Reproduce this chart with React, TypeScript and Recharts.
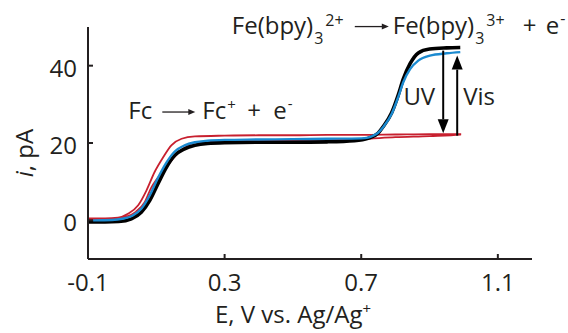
import React from "react";
import { LineChart, Line, XAxis, YAxis, ReferenceLine, ReferenceDot } from "recharts";

const FONT = "'Open Sans', sans-serif";
const INK = "#231f20";

const xTicks = [-0.1, 0.3, 0.7, 1.1];
const yTicks = [0, 20, 40];

// black trace (E in V, i in pA)
const blackE = [-0.1, -0.05, -0.01, 0.027, 0.056, 0.081, 0.105, 0.13, 0.154, 0.183, 0.213, 0.25, 0.3, 0.4, 0.5, 0.6, 0.68, 0.72, 0.75, 0.764, 0.789, 0.808, 0.823, 0.843, 0.867, 0.9, 0.95, 0.99];
const blackI = [-0.4, -0.4, -0.3, 0.4, 2.1, 5.2, 9.5, 13.8, 16.8, 18.5, 19.4, 19.9, 20.1, 20.2, 20.2, 20.3, 20.6, 21.2, 22.6, 24.2, 27.8, 32.3, 36.5, 40.5, 43.3, 44.3, 44.6, 44.7];

// blue trace
const blueE = [-0.085, -0.03, 0.0, 0.03, 0.056, 0.081, 0.105, 0.13, 0.154, 0.183, 0.213, 0.25, 0.3, 0.4, 0.5, 0.6, 0.7, 0.72, 0.735, 0.75, 0.764, 0.789, 0.808, 0.823, 0.843, 0.867, 0.901, 0.95, 0.99];
const blueI = [0.0, 0.1, 0.4, 1.2, 3.0, 6.5, 11.0, 15.0, 17.8, 19.4, 20.2, 20.6, 20.8, 20.9, 21.0, 21.1, 21.2, 21.4, 21.9, 22.7, 24.1, 27.5, 31.8, 35.7, 39.1, 41.3, 42.6, 43.2, 43.5];

// red trace: forward scan then reverse scan
const redE = [-0.1, -0.05, -0.012, 0.017, 0.047, 0.071, 0.095, 0.12, 0.144, 0.174, 0.213, 0.3, 0.4, 0.5, 0.6, 0.7, 0.8, 0.9, 0.99,
  0.99, 0.9, 0.8, 0.7, 0.6, 0.5, 0.4, 0.3, 0.22, 0.19, 0.165, 0.14, 0.115, 0.1, 0.086, 0.066, 0.04, 0.01, -0.03, -0.1];
const redI = [0.5, 0.5, 0.7, 1.7, 3.9, 7.7, 12.5, 16.3, 19.4, 21.1, 21.7, 21.9, 22.0, 22.0, 22.1, 22.1, 22.2, 22.3, 22.3,
  22.2, 21.8, 21.5, 21.0, 20.8, 20.7, 20.6, 20.5, 20.2, 19.2, 17.5, 15.0, 12.2, 10.5, 8.6, 4.7, 2.2, 0.9, 0.5, 0.3];

const toPoints = (xs: number[], ys: number[]) => xs.map((x, i) => ({ x, y: ys[i] }));
const blackData = toPoints(blackE, blackI);
const blueData = toPoints(blueE, blueI);
const redData = toPoints(redE, redI);

// annotation anchors (data units)
const uvArrow = { x: 0.94, from: 43.9, to: 22.5 };
const visArrow = { x: 0.981, from: 21.9, to: 42.6 };
const fcLabel = { x: 0.018, y: 26.2 };
const feLabel = { x: 0.321, y: 48.3 };
const uvLabel = { x: 0.94, y: 29.7 };
const visLabel = { x: 0.981, y: 29.7 };

const XTick = (props: any) => {
  const { x, y, payload } = props;
  return (
    <g>
      <line x1={x} y1={y} x2={x} y2={y - 5} stroke={INK} strokeWidth={2} />
      <text x={x} y={y + 32} textAnchor="middle" fontSize={24} fontFamily={FONT} fill={INK}>
        {String(payload.value)}
      </text>
    </g>
  );
};

const YTick = (props: any) => {
  const { x, y, payload } = props;
  return (
    <g>
      <line x1={x} y1={y} x2={x + 5} y2={y} stroke={INK} strokeWidth={2} />
      <text x={x - 11} y={y + 11} textAnchor="end" fontSize={24} fontFamily={FONT} fill={INK}>
        {String(payload.value)}
      </text>
    </g>
  );
};

const ArrowShape = (props: any) => {
  const { x1, y1, x2, y2 } = props;
  const dir = y2 > y1 ? 1 : -1;
  const headLen = 14;
  const headW = 5.5;
  const baseY = y2 - dir * headLen;
  return (
    <g>
      <line x1={x1} y1={y1} x2={x2} y2={baseY} stroke="#000" strokeWidth={2} />
      <path d={`M${x2},${y2} L${x2 - headW},${baseY} L${x2 + headW},${baseY} Z`} fill="#000" />
    </g>
  );
};

const SmallArrow = ({ x1, x2, y }: { x1: number; x2: number; y: number }) => (
  <g>
    <line x1={x1} y1={y} x2={x2 - 5} y2={y} stroke={INK} strokeWidth={1.3} />
    <path d={`M${x2},${y} L${x2 - 7},${y - 3} L${x2 - 7},${y + 3} Z`} fill={INK} />
  </g>
);

const FcShape = (props: any) => {
  const { cx, cy } = props;
  const t = { fontFamily: FONT, fill: INK } as any;
  return (
    <g>
      <text x={cx} y={cy} fontSize={24} {...t}>Fc</text>
      <SmallArrow x1={cx + 34} x2={cx + 67} y={cy - 7} />
      <text x={cx + 74} y={cy} fontSize={24} {...t}>
        Fc<tspan fontSize={15} dy={-9} dx={1}>+</tspan>
      </text>
      <text x={cx + 119} y={cy} fontSize={24} {...t}>+</text>
      <text x={cx + 145} y={cy} fontSize={24} {...t}>
        e<tspan fontSize={15} dy={-10} dx={1}>-</tspan>
      </text>
    </g>
  );
};

const FeShape = (props: any) => {
  const { cx, cy } = props;
  const t = { fontFamily: FONT, fill: INK } as any;
  return (
    <g>
      <text x={cx} y={cy} fontSize={24} {...t}>
        Fe(bpy)<tspan fontSize={16} dy={10} dx={1}>3</tspan>
        <tspan fontSize={16} dy={-18} dx={2}>2+</tspan>
      </text>
      <SmallArrow x1={cx + 123} x2={cx + 157} y={cy - 7} />
      <text x={cx + 161} y={cy} fontSize={24} {...t}>
        Fe(bpy)<tspan fontSize={16} dy={10} dx={1}>3</tspan>
        <tspan fontSize={16} dy={-18} dx={2}>3+</tspan>
      </text>
      <text x={cx + 291} y={cy} fontSize={24} {...t}>+</text>
      <text x={cx + 314} y={cy} fontSize={24} {...t}>
        e<tspan fontSize={16} dy={-10} dx={1}>-</tspan>
      </text>
    </g>
  );
};

const UVShape = (props: any) => (
  <text x={props.cx - 8} y={props.cy} textAnchor="end" fontSize={24} fontFamily={FONT} fill={INK}>UV</text>
);
const VisShape = (props: any) => (
  <text x={props.cx + 6} y={props.cy} textAnchor="start" fontSize={24} fontFamily={FONT} fill={INK}>Vis</text>
);

const XLabel = (props: any) => {
  const vb = props.viewBox;
  return (
    <text x={vb.x + vb.width / 2 - 17} y={vb.y + 64} textAnchor="middle" fontSize={24} fontFamily={FONT} fill={INK}>
      E, V vs. Ag/Ag
      <tspan fontSize={15} dy={-9}>+</tspan>
    </text>
  );
};

const YLabel = (props: any) => {
  const vb = props.viewBox;
  const cx = 33;
  const cy = vb.y + vb.height / 2 + 10;
  return (
    <text x={cx} y={cy} transform={`rotate(-90, ${cx}, ${cy})`} textAnchor="middle" fontSize={24} fontFamily={FONT} fill={INK}>
      <tspan fontStyle="italic">i</tspan>, pA
    </text>
  );
};

export default function App() {
  return (
    <div style={{ position: "absolute", left: 0, top: 0, width: 568, height: 333, background: "#fff" }}>
      <LineChart width={568} height={333} margin={{ top: 27, right: 36, bottom: 0, left: 0 }}>
        <XAxis
          type="number"
          dataKey="x"
          domain={[-0.1, 1.2]}
          ticks={xTicks}
          allowDataOverflow
          height={74}
          tickSize={0}
          tickMargin={0}
          tickLine={false}
          axisLine={{ stroke: INK, strokeWidth: 2 }}
          tick={<XTick />}
          label={<XLabel />}
        />
        <YAxis
          type="number"
          dataKey="y"
          domain={[-10, 50]}
          ticks={yTicks}
          allowDataOverflow
          width={88}
          tickSize={0}
          tickMargin={0}
          tickLine={false}
          axisLine={{ stroke: INK, strokeWidth: 2 }}
          tick={<YTick />}
          label={<YLabel />}
        />
        <Line data={redData} dataKey="y" stroke="#c8202f" strokeWidth={1.8} dot={false} isAnimationActive={false} type="monotone" />
        <Line data={blackData} dataKey="y" stroke="#000" strokeWidth={3.6} dot={false} isAnimationActive={false} type="monotone" />
        <Line data={blueData} dataKey="y" stroke="#1b8ad0" strokeWidth={2.4} dot={false} isAnimationActive={false} type="monotone" />
        <ReferenceLine segment={[{ x: uvArrow.x, y: uvArrow.from }, { x: uvArrow.x, y: uvArrow.to }]} shape={<ArrowShape />} />
        <ReferenceLine segment={[{ x: visArrow.x, y: visArrow.from }, { x: visArrow.x, y: visArrow.to }]} shape={<ArrowShape />} />
        <ReferenceDot x={fcLabel.x} y={fcLabel.y} shape={<FcShape />} />
        <ReferenceDot x={feLabel.x} y={feLabel.y} shape={<FeShape />} />
        <ReferenceDot x={uvLabel.x} y={uvLabel.y} shape={<UVShape />} />
        <ReferenceDot x={visLabel.x} y={visLabel.y} shape={<VisShape />} />
      </LineChart>
    </div>
  );
}
